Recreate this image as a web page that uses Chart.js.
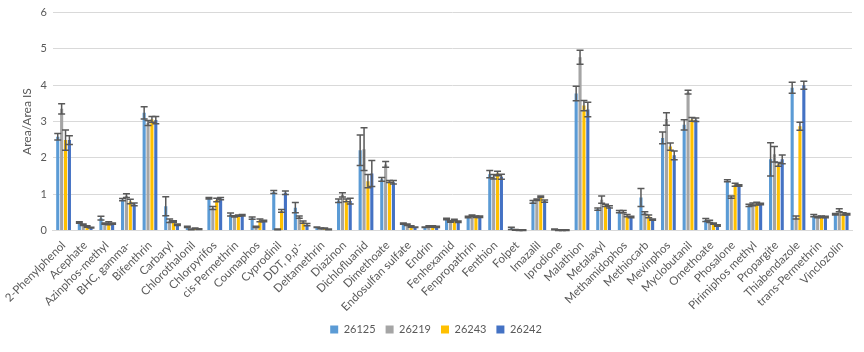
<!DOCTYPE html>
<html>
<head>
<meta charset="utf-8">
<script src="https://cdn.jsdelivr.net/npm/chart.js@4"></script>
<style>
  html, body { margin: 0; padding: 0; background: #fff; }
  #wrap { width: 864px; height: 352px; position: relative; }
</style>
</head>
<body>
<div id="wrap"><canvas id="chart"></canvas></div>
<script>
// categories (compounds)
var categories = ['2-Phenylphenol', 'Acephate', 'Azinphos-methyl', 'BHC, gamma-', 'Bifenthrin', 'Carbaryl',
  'Chlorothalonil', 'Chlorpyrifos', 'cis-Permethrin', 'Coumaphos', 'Cyprodinil', "DDT, p,p'-", 'Deltamethrin',
  'Diazinon', 'Dichlofluanid', 'Dimethoate', 'Endosulfan sulfate', 'Endrin', 'Fenhexamid', 'Fenpropathrin',
  'Fenthion', 'Folpet', 'Imazalil', 'Iprodione', 'Malathion', 'Metalaxyl', 'Methamidophos', 'Methiocarb',
  'Mevinphos', 'Myclobutanil', 'Omethoate', 'Phosalone', 'Pirimiphos methyl', 'Propargite', 'Thiabendazole',
  'trans-Permethrin', 'Vinclozolin'];

var seriesNames = ['26125', '26219', '26243', '26242'];

// mean values (Area/Area IS)
var s26125 = [2.58, 0.22, 0.34, 0.85, 3.24, 0.67, 0.10, 0.89, 0.44, 0.34, 1.06, 0.63, 0.09,
  0.82, 2.21, 1.41, 0.19, 0.09, 0.32, 0.37, 1.55, 0.06, 0.79, 0.03, 3.77, 0.59, 0.52, 0.91,
  2.55, 2.91, 0.29, 1.37, 0.69, 1.96, 3.93, 0.41, 0.45];
var s26219 = [3.35, 0.16, 0.19, 0.96, 2.96, 0.27, 0.03, 0.62, 0.39, 0.10, 0.03, 0.37, 0.06,
  0.98, 2.24, 1.82, 0.16, 0.11, 0.25, 0.41, 1.48, 0.02, 0.85, 0.01, 4.77, 0.85, 0.52, 0.48,
  3.07, 3.81, 0.25, 0.92, 0.72, 2.10, 0.36, 0.37, 0.56];
var s26243 = [2.49, 0.11, 0.20, 0.80, 3.06, 0.25, 0.06, 0.84, 0.41, 0.28, 0.54, 0.23, 0.06,
  0.83, 1.36, 1.35, 0.11, 0.11, 0.29, 0.38, 1.57, 0.01, 0.93, 0.01, 3.44, 0.69, 0.41, 0.39,
  2.31, 3.06, 0.19, 1.26, 0.74, 1.82, 2.87, 0.38, 0.46];
var s26242 = [2.49, 0.08, 0.19, 0.72, 3.04, 0.16, 0.04, 0.88, 0.42, 0.26, 1.04, 0.16, 0.03,
  0.81, 1.57, 1.33, 0.09, 0.10, 0.24, 0.38, 1.48, 0.01, 0.81, 0.01, 3.33, 0.65, 0.37, 0.30,
  2.07, 3.05, 0.14, 1.24, 0.73, 1.96, 4.00, 0.37, 0.45];

// error (+/-)
var e26125 = [0.09, 0.02, 0.05, 0.03, 0.17, 0.26, 0.02, 0.02, 0.04, 0.03, 0.04, 0.14, 0.01,
  0.05, 0.42, 0.05, 0.02, 0.01, 0.02, 0.02, 0.10, 0.03, 0.04, 0.01, 0.20, 0.03, 0.03, 0.25,
  0.16, 0.14, 0.04, 0.03, 0.03, 0.46, 0.15, 0.03, 0.02];
var e26219 = [0.14, 0.02, 0.02, 0.05, 0.07, 0.05, 0.01, 0.04, 0.02, 0.02, 0.01, 0.03, 0.01,
  0.06, 0.59, 0.08, 0.02, 0.02, 0.02, 0.02, 0.06, 0.01, 0.02, 0.01, 0.19, 0.10, 0.03, 0.04,
  0.17, 0.05, 0.03, 0.03, 0.04, 0.21, 0.04, 0.02, 0.04];
var e26243 = [0.28, 0.02, 0.04, 0.06, 0.08, 0.02, 0.01, 0.05, 0.02, 0.04, 0.04, 0.03, 0.01,
  0.04, 0.18, 0.03, 0.02, 0.02, 0.02, 0.02, 0.06, 0.01, 0.02, 0.01, 0.14, 0.03, 0.03, 0.04,
  0.10, 0.05, 0.02, 0.04, 0.04, 0.05, 0.11, 0.02, 0.03];
var e26242 = [0.12, 0.01, 0.02, 0.04, 0.10, 0.02, 0.01, 0.03, 0.02, 0.02, 0.05, 0.03, 0.01,
  0.08, 0.36, 0.05, 0.01, 0.02, 0.02, 0.02, 0.07, 0.01, 0.03, 0.01, 0.20, 0.03, 0.02, 0.02,
  0.12, 0.05, 0.02, 0.02, 0.02, 0.12, 0.11, 0.02, 0.02];

var yTicks = [0, 1, 2, 3, 4, 5, 6];

var colors = ['#5B9BD5', '#A5A5A5', '#FFC000', '#4472C4'];
var values = [s26125, s26219, s26243, s26242];
var errors = [e26125, e26219, e26243, e26242];

// Excel-style error bars, drawn through the y scale
var errorBars = {
  id: 'errorBars',
  afterDatasetsDraw: function(chart) {
    var ctx = chart.ctx;
    var yScale = chart.scales.y;
    ctx.save();
    ctx.strokeStyle = '#595959';
    ctx.lineWidth = 1.5;
    chart.data.datasets.forEach(function(ds, di) {
      var meta = chart.getDatasetMeta(di);
      meta.data.forEach(function(bar, i) {
        var v = ds.data[i];
        var err = ds.errors[i];
        var x = bar.x;
        var yTop = yScale.getPixelForValue(v + err);
        var yBot = yScale.getPixelForValue(v - err);
        var cap = 3.5;
        ctx.beginPath();
        ctx.moveTo(x, yTop); ctx.lineTo(x, yBot);
        ctx.moveTo(x - cap, yTop); ctx.lineTo(x + cap, yTop);
        ctx.moveTo(x - cap, yBot); ctx.lineTo(x + cap, yBot);
        ctx.stroke();
      });
    });
    ctx.restore();
  }
};

var datasets = seriesNames.map(function(name, i) {
  return {
    label: name,
    data: values[i],
    errors: errors[i],
    backgroundColor: colors[i],
    categoryPercentage: 0.72,
    barPercentage: 0.8
  };
});

Chart.defaults.font.family = 'Lato, "Open Sans", sans-serif';
Chart.defaults.color = '#595959';

var ctx = document.getElementById('chart').getContext('2d');
var chart = new Chart(ctx, {
  type: 'bar',
  data: { labels: categories, datasets: datasets },
  options: {
    responsive: true,
    maintainAspectRatio: false,
    animation: false,
    layout: { padding: { left: 20, right: 12, top: 4, bottom: 7 } },
    plugins: {
      legend: {
        position: 'bottom',
        labels: { boxWidth: 8, boxHeight: 8, padding: 10, font: { size: 11 } }
      },
      tooltip: { enabled: false }
    },
    scales: {
      x: {
        grid: { display: false },
        border: { color: '#d9d9d9' },
        ticks: { minRotation: 45, maxRotation: 45, autoSkip: false, font: { size: 11.5 }, padding: 0 }
      },
      y: {
        min: 0,
        max: 6,
        afterBuildTicks: function(axis) {
          axis.ticks = yTicks.map(function(v) { return { value: v }; });
        },
        grid: { color: '#d9d9d9', drawTicks: false },
        border: { display: false },
        ticks: { font: { size: 11 }, padding: 6 },
        title: { display: true, text: 'Area/Area IS', font: { size: 12 }, color: '#595959', padding: 0 }
      }
    }
  },
  plugins: [errorBars]
});
</script>
</body>
</html>
